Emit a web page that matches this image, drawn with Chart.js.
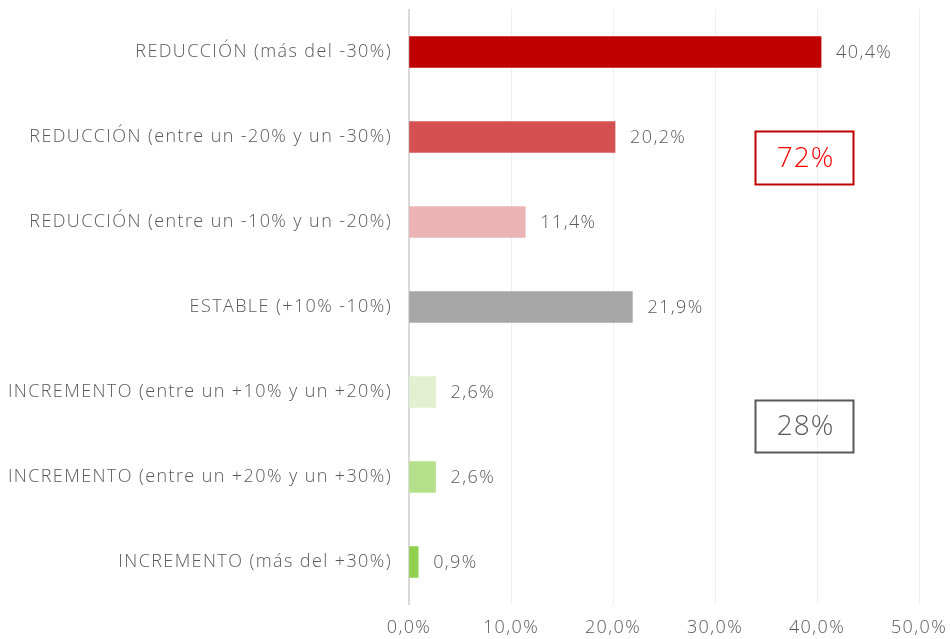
<!DOCTYPE html>
<html>
<head>
<meta charset="utf-8">
<script src="https://cdn.jsdelivr.net/npm/chart.js@4"></script>
<style>
  html, body { margin: 0; padding: 0; background: #fff; }
  #wrap { width: 950px; height: 639px; }
</style>
</head>
<body>
<div id="wrap"><canvas id="chart"></canvas></div>
<script>
const categories = [
  'REDUCCIÓN (más del -30%)',
  'REDUCCIÓN (entre un -20% y un -30%)',
  'REDUCCIÓN (entre un -10% y un -20%)',
  'ESTABLE (+10% -10%)',
  'INCREMENTO (entre un +10% y un +20%)',
  'INCREMENTO (entre un +20% y un +30%)',
  'INCREMENTO (más del +30%)'
];
const values = [40.4, 20.2, 11.4, 21.9, 2.6, 2.6, 0.9];
const barColors = ['#c00000', '#d45051', '#ebb3b3', '#a6a6a6', '#e2f0d0', '#b5e08a', '#92d050'];
const xTicks = [0, 10, 20, 30, 40, 50];
const summaryBoxes = [
  { text: '72%', fromCat: 0.93, toCat: 1.55, color: '#ff0000', border: '#c00000' },
  { text: '28%', fromCat: 4.09, toCat: 4.71, color: '#595959', border: '#595959' }
];

const FONT = "'Open Sans', sans-serif";
const GREY = '#595959';
const SPACING = '1.4px';
const fmt = v => v.toFixed(1).replace('.', ',') + '%';

// the reference font is much wider than anything installed, so widen the letters a bit
const spacing = {
  id: 'spacing',
  beforeDraw(chart) { chart.ctx.letterSpacing = SPACING; }
};

// value labels + the two summary boxes
const extras = {
  id: 'extras',
  afterDatasetsDraw(chart) {
    const ctx = chart.ctx;
    const meta = chart.getDatasetMeta(0);
    ctx.save();
    ctx.letterSpacing = SPACING;
    ctx.font = '300 18px ' + FONT;
    ctx.fillStyle = GREY;
    ctx.textAlign = 'left';
    ctx.textBaseline = 'middle';
    meta.data.forEach((bar, i) => {
      ctx.fillText(fmt(values[i]), bar.x + 15, bar.y + 1);
    });
    const xs = chart.scales.x, ys = chart.scales.y;
    summaryBoxes.forEach(b => {
      const x0 = Math.round(xs.getPixelForValue(33.9)) + 0.5;
      const x1 = Math.round(xs.getPixelForValue(43.5)) + 0.5;
      const y0 = Math.round(ys.getPixelForValue(b.fromCat)) + 0.5;
      const y1 = Math.round(ys.getPixelForValue(b.toCat)) + 0.5;
      ctx.strokeStyle = b.border;
      ctx.lineWidth = 2;
      ctx.strokeRect(x0, y0, x1 - x0, y1 - y0);
      ctx.font = '300 28px ' + FONT;
      ctx.letterSpacing = '1px';
      ctx.fillStyle = b.color;
      ctx.textAlign = 'center';
      ctx.fillText(b.text, (x0 + x1) / 2 + 1, (y0 + y1) / 2 + 1);
    });
    ctx.restore();
  }
};

new Chart(document.getElementById('chart'), {
  type: 'bar',
  data: {
    labels: categories,
    datasets: [{
      data: values,
      backgroundColor: barColors,
      borderWidth: 0,
      barThickness: 31
    }]
  },
  options: {
    indexAxis: 'y',
    responsive: true,
    maintainAspectRatio: false,
    animation: false,
    layout: { padding: { top: 9.5, right: 31, left: 0, bottom: 0 } },
    plugins: { legend: { display: false }, tooltip: { enabled: false } },
    scales: {
      x: {
        min: 0, max: 50,
        afterBuildTicks: s => { s.ticks = xTicks.map(v => ({ value: v })); },
        afterFit: s => { s.height = 34.5; s.paddingLeft = 0; s.paddingRight = 0; },
        grid: { color: '#efefef', lineWidth: 1, drawTicks: false },
        border: { display: false },
        ticks: {
          padding: 13,
          color: GREY,
          font: { family: FONT, size: 18, weight: 300 },
          callback: v => fmt(v),
          maxRotation: 0
        }
      },
      y: {
        afterFit: s => { s.width = 409; s.paddingTop = 0; s.paddingBottom = 0; },
        grid: { display: false, drawTicks: false },
        border: { display: true, color: '#d9d9d9', width: 2 },
        ticks: {
          padding: 17,
          color: GREY,
          font: { family: FONT, size: 18, weight: 300 }
        }
      }
    }
  },
  plugins: [spacing, extras]
});
</script>
</body>
</html>
